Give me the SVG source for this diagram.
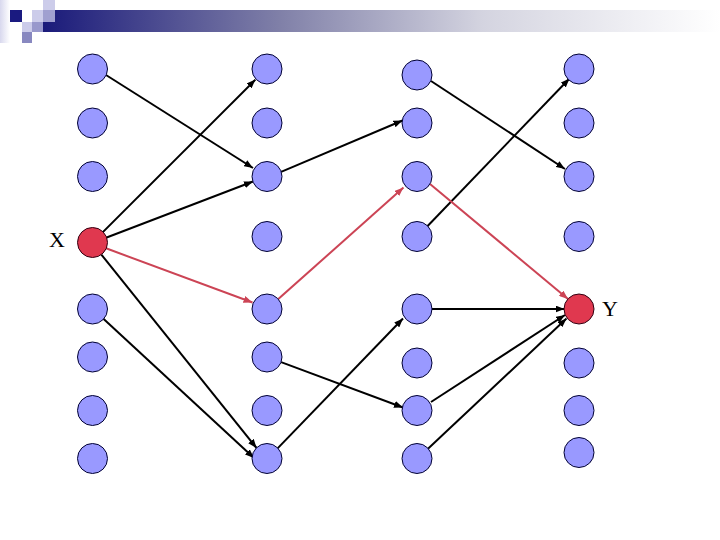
<svg xmlns="http://www.w3.org/2000/svg" width="720" height="540" viewBox="0 0 720 540">
<style>
.n{fill:#9999ff;stroke:#000033;stroke-width:1}
.r{fill:#e0384f;stroke:#330011;stroke-width:1}
.e{stroke:#000;stroke-width:2;fill:none;marker-end:url(#ab)}
.er{stroke:#cc4455;stroke-width:2;fill:none;marker-end:url(#ar)}
.lbl{font-family:"Liberation Serif","Times New Roman",serif;font-size:22px;fill:#000}
</style>
<defs>
<linearGradient id="bar" x1="0" y1="0" x2="1" y2="0">
<stop offset="0" stop-color="#1a1a7a"/>
<stop offset="0.35" stop-color="#8080a8"/>
<stop offset="0.65" stop-color="#d4d4e0"/>
<stop offset="1" stop-color="#ffffff"/>
</linearGradient>
<linearGradient id="side" x1="0" y1="0" x2="1" y2="0">
<stop offset="0" stop-color="#d8d8ee"/>
<stop offset="1" stop-color="#ffffff"/>
</linearGradient>
<marker id="ab" markerWidth="9" markerHeight="7" refX="9" refY="3.5" orient="auto" markerUnits="userSpaceOnUse">
<path d="M0,0 L9,3.5 L0,7 z" fill="#000"/>
</marker>
<marker id="ar" markerWidth="9" markerHeight="7" refX="9" refY="3.5" orient="auto" markerUnits="userSpaceOnUse">
<path d="M0,0 L9,3.5 L0,7 z" fill="#cc4455"/>
</marker>
</defs>
<g id="header">
<rect x="0" y="0" width="10" height="43" fill="url(#side)"/>
<rect x="43" y="10" width="677" height="22" fill="url(#bar)"/>
<rect x="10" y="10" width="12" height="12" fill="#1a1a80"/>
<rect x="43" y="0" width="12" height="10" fill="#ccccea"/>
<rect x="32" y="10" width="11" height="12" fill="#ccccea"/>
<rect x="43" y="10" width="12" height="12" fill="#a0a0d0"/>
<rect x="22" y="22" width="10" height="10" fill="#ccccea"/>
<rect x="32" y="22" width="11" height="10" fill="#9999cc"/>
<rect x="22" y="32" width="10" height="11" fill="#8888c0"/>
</g>
<g id="connectors">
<line class="e" x1="106" y1="75" x2="253" y2="168"/>
<line class="e" x1="102.6" y1="232.4" x2="255.4" y2="79.6"/>
<line class="e" x1="106" y1="237.7" x2="253" y2="181.5"/>
<line class="e" x1="101.4" y1="254.7" x2="256.6" y2="448"/>
<line class="er" x1="106" y1="248.3" x2="252.5" y2="302.5"/>
<line class="e" x1="103.4" y1="318.8" x2="254" y2="458"/>
<line class="e" x1="281.1" y1="171.9" x2="402.5" y2="120.5"/>
<line class="er" x1="278.3" y1="299.1" x2="403.5" y2="187.5"/>
<line class="e" x1="281.1" y1="362.1" x2="403" y2="407.5"/>
<line class="e" x1="277.6" y1="448.4" x2="403" y2="318.5"/>
<line class="e" x1="431" y1="81" x2="565" y2="169"/>
<line class="e" x1="427.4" y1="226.2" x2="569.5" y2="78.5"/>
<line class="er" x1="430" y1="184" x2="568" y2="299"/>
<line class="e" x1="432" y1="309" x2="564.5" y2="309"/>
<line class="e" x1="431" y1="402" x2="565" y2="315"/>
<line class="e" x1="428" y1="448.8" x2="566.5" y2="318.5"/>
</g>
<g id="col1">
<circle id="n1_1" class="n" cx="92.5" cy="69" r="15"/>
<circle id="n1_2" class="n" cx="92.5" cy="123" r="15"/>
<circle id="n1_3" class="n" cx="92.5" cy="176.5" r="15"/>
<g id="nodeX"><circle class="r" cx="92.5" cy="242.5" r="15"/><text class="lbl" x="49" y="246.5">X</text></g>
<circle id="n1_5" class="n" cx="92.5" cy="309" r="15"/>
<circle id="n1_6" class="n" cx="92.5" cy="357" r="15"/>
<circle id="n1_7" class="n" cx="92.5" cy="410.5" r="15"/>
<circle id="n1_8" class="n" cx="92.5" cy="458.5" r="15"/>
</g>
<g id="col2">
<circle id="n2_1" class="n" cx="267" cy="69" r="15"/>
<circle id="n2_2" class="n" cx="267" cy="123" r="15"/>
<circle id="n2_3" class="n" cx="267" cy="176.5" r="15"/>
<circle id="n2_4" class="n" cx="267" cy="236.5" r="15"/>
<circle id="n2_5" class="n" cx="267" cy="309" r="15"/>
<circle id="n2_6" class="n" cx="267" cy="357" r="15"/>
<circle id="n2_7" class="n" cx="267" cy="410.5" r="15"/>
<circle id="n2_8" class="n" cx="267" cy="458.5" r="15"/>
</g>
<g id="col3">
<circle id="n3_1" class="n" cx="417" cy="75" r="15"/>
<circle id="n3_2" class="n" cx="417" cy="123" r="15"/>
<circle id="n3_3" class="n" cx="417" cy="176.5" r="15"/>
<circle id="n3_4" class="n" cx="417" cy="236.5" r="15"/>
<circle id="n3_5" class="n" cx="417" cy="309" r="15"/>
<circle id="n3_6" class="n" cx="417" cy="363" r="15"/>
<circle id="n3_7" class="n" cx="417" cy="410.5" r="15"/>
<circle id="n3_8" class="n" cx="417" cy="458.5" r="15"/>
</g>
<g id="col4">
<circle id="n4_1" class="n" cx="579" cy="69" r="15"/>
<circle id="n4_2" class="n" cx="579" cy="123" r="15"/>
<circle id="n4_3" class="n" cx="579" cy="176.5" r="15"/>
<circle id="n4_4" class="n" cx="579" cy="236.5" r="15"/>
<g id="nodeY"><circle class="r" cx="579" cy="309" r="15"/><text class="lbl" x="602" y="315.5">Y</text></g>
<circle id="n4_6" class="n" cx="579" cy="363" r="15"/>
<circle id="n4_7" class="n" cx="579" cy="410.5" r="15"/>
<circle id="n4_8" class="n" cx="579" cy="452.5" r="15"/>
</g>
</svg>
